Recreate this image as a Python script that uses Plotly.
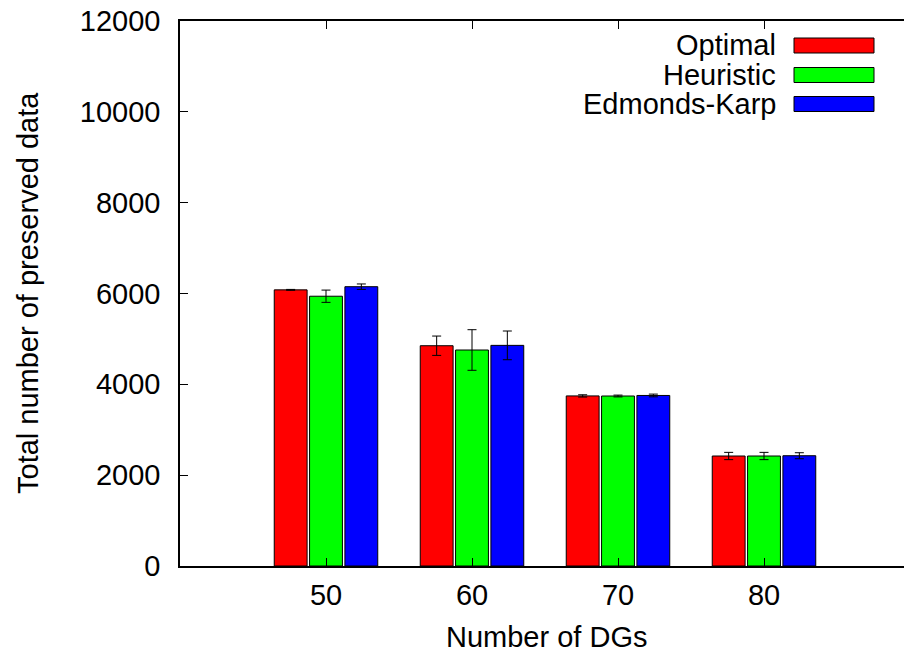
import plotly.graph_objects as go

# ---- data ----
dgs = [50, 60, 70, 80]
series_names = ["Optimal", "Heuristic", "Edmonds-Karp"]
optimal = [6080, 4850, 3745, 2422]
optimal_err = [10, 213, 25, 80]
heuristic = [5940, 4756, 3743, 2422]
heuristic_err = [135, 447, 20, 80]
edmonds_karp = [6150, 4858, 3755, 2428]
edmonds_karp_err = [60, 316, 30, 66]
y_ticks = [0, 2000, 4000, 6000, 8000, 10000, 12000]
colors = ["#ff0000", "#00ff00", "#0000ff"]

values = [optimal, heuristic, edmonds_karp]
errors = [optimal_err, heuristic_err, edmonds_karp_err]

W, H = 904, 656
PL, PT, PB = 180, 21, 566          # plot edges in page pixels
L, R, T = PL, 0, PT
B = H - PB
FONT = "Liberation Sans, Arial, sans-serif"
FS = 29

fig = go.Figure()
for name, v, e, c in zip(series_names, values, errors, colors):
    fig.add_trace(go.Bar(
        x=dgs, y=v, name=name,
        marker=dict(color=c, line=dict(color="black", width=1)),
        error_y=dict(type="data", array=e, visible=True, color="black",
                     thickness=1, width=4.5),
        showlegend=False,
    ))

pw = W - L - R
ph = H - T - B
def px(xp):
    return (xp - PL) / pw
def py(yp):
    return (PB - yp) / ph

# legend drawn gnuplot style: text on the left, swatch on the right
row_y = [45.5, 75, 104]
for name, c, yc in zip(series_names, colors, row_y):
    fig.add_annotation(x=px(778), y=py(yc), xref="paper", yref="paper",
                       text=name, showarrow=False, xanchor="right", yanchor="middle",
                       font=dict(family=FONT, size=FS, color="black"))
    fig.add_shape(type="rect", xref="paper", yref="paper",
                  x0=px(794), x1=px(874), y0=py(yc - 7.5), y1=py(yc + 7.5),
                  fillcolor=c, line=dict(color="black", width=1))

# axis titles
fig.add_annotation(x=px(546), y=py(637), xref="paper", yref="paper",
                   text="Number of DGs", showarrow=False, xanchor="center", yanchor="middle",
                   font=dict(family=FONT, size=FS, color="black"))
fig.add_annotation(x=px(28), y=py(293), xref="paper", yref="paper",
                   text="Total number of preserved data", showarrow=False, textangle=-90,
                   xanchor="center", yanchor="middle",
                   font=dict(family=FONT, size=FS, color="black"))

fig.update_layout(
    width=W, height=H,
    margin=dict(l=L, r=R, t=T, b=B, pad=0),
    paper_bgcolor="white", plot_bgcolor="white",
    barmode="group", bargap=0.274, bargroupgap=0.07,
    font=dict(family=FONT, size=FS, color="black"),
    xaxis=dict(range=[40, 40 + pw / 14.6], tickvals=dgs, ticktext=[str(d) for d in dgs],
               ticks="inside", ticklen=8, tickcolor="black", showline=True,
               linecolor="black", linewidth=1.5, mirror="ticks", showgrid=False,
               zeroline=False, ticklabelstandoff=2, automargin=False),
    yaxis=dict(range=[0, 12000], tickvals=y_ticks, ticktext=[str(t) for t in y_ticks],
               ticks="inside", ticklen=8, tickcolor="black", showline=True,
               linecolor="black", linewidth=1.5, mirror=False, showgrid=False,
               zeroline=False, ticklabelstandoff=12, automargin=False),
)

fig.write_html("out.html",
               config={"displayModeBar": False},
               post_script="document.body.style.margin='0';document.body.style.overflow='hidden';document.documentElement.style.overflow='hidden';")
